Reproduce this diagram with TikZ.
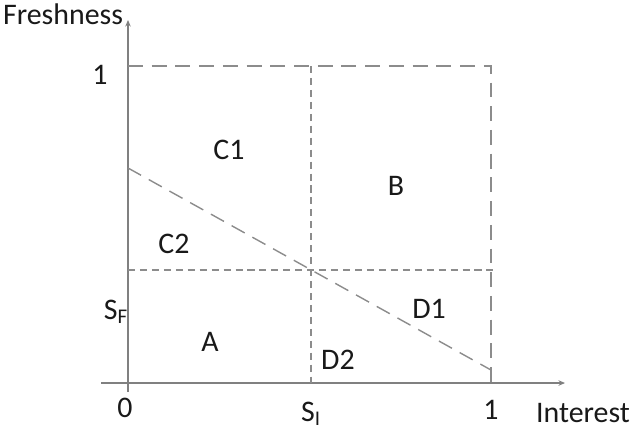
\documentclass[tikz,border=0pt]{standalone}
\usepackage{fontspec}
\setmainfont{Carlito}
\usetikzlibrary{arrows.meta}

\begin{document}
\begin{tikzpicture}[
    x=0.02cm, y=-0.02cm,
    font=\fontsize{17}{20}\selectfont,
    text=black!90,
    >={Stealth[length=1.3mm,width=1.1mm]},
    axis/.style={->, draw=black!50, line width=0.7pt},
    longdash/.style={draw=black!45, line width=0.8pt, dash pattern=on 8.5pt off 5pt},
    shortdash/.style={draw=black!45, line width=0.8pt, dash pattern=on 4pt off 2.8pt},
    lab/.style={inner sep=1pt},
  ]
  \useasboundingbox (0,0) rectangle (631,433);

  %% ---- corner points ------------------------------------------------
  \coordinate (O)   at (128,383);
  \coordinate (xs)  at (101,383);
  \coordinate (xe)  at (565,383);
  \coordinate (ys)  at (128,392);
  \coordinate (ye)  at (128,20);
  \coordinate (TL)  at (128,66);
  \coordinate (TM)  at (311,66);
  \coordinate (TR)  at (491,66);
  \coordinate (BM)  at (311,383);
  \coordinate (BR)  at (491,383);
  \coordinate (FL)  at (128,270);
  \coordinate (FR)  at (497,270);
  \coordinate (DL)  at (128,168);
  \coordinate (DR)  at (491,370);

  %% ---- axes ---------------------------------------------------------
  \draw[axis] (xs) -- (xe);
  \draw[axis] (ys) -- (ye);

  %% ---- unit square and thresholds ------------------------------------
  \draw[longdash] (TL) -- (TR) -- (BR);
  \draw[shortdash] (TM) -- (BM);
  \draw[shortdash] (FL) -- (FR);
  \draw[longdash] (DL) -- (DR);

  %% ---- axis labels --------------------------------------------------
  \node[lab,anchor=west] (fresh) at (1,14) {Freshness};
  \node[lab] (one-y) at (100,75) {1};
  \node[lab] (zero)  at (125,408) {0};
  \node[lab] (sf)    at (116,312) {S\textsubscript{F}};
  \node[lab] (si)    at (311,414) {S\textsubscript{I}};
  \node[lab] (one-x) at (491,410) {1};
  \node[lab] (inter) at (583,413) {Interest};

  %% ---- regions ------------------------------------------------------
  \node[lab] (c1) at (229,150) {C1};
  \node[lab] (b)  at (396,186) {B};
  \node[lab] (c2) at (174,244) {C2};
  \node[lab] (d1) at (429,309) {D1};
  \node[lab] (a)  at (210,342) {A};
  \node[lab] (d2) at (338,360) {D2};

\end{tikzpicture}
\end{document}
